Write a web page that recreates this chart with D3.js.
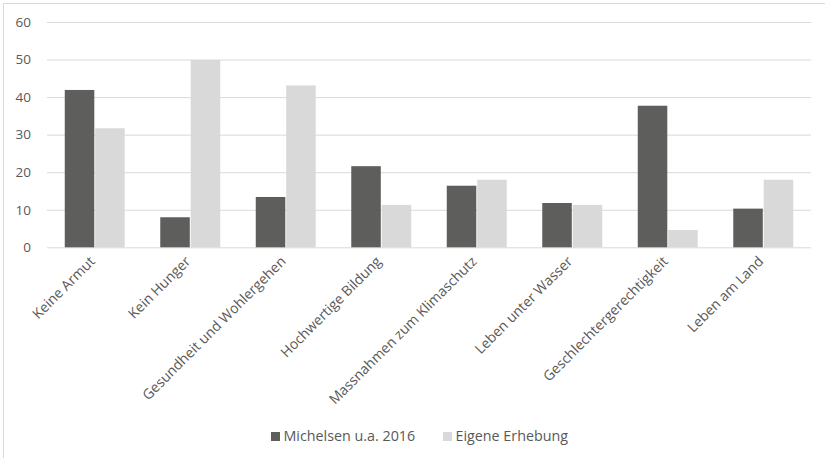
<!DOCTYPE html>
<html><head><meta charset="utf-8">
<script src="https://cdn.jsdelivr.net/npm/d3@7"></script>
<style>
html,body{margin:0;padding:0;background:#fff;}
svg{display:block;font-family:"Open Sans",sans-serif;}
</style></head>
<body>
<svg id="chart" width="825" height="458"></svg>
<script>
const categories = ["Keine Armut","Kein Hunger","Gesundheit und Wohlergehen","Hochwertige Bildung","Massnahmen zum Klimaschutz","Leben unter Wasser","Geschlechtergerechtigkeit","Leben am Land"];
const seriesNames = ["Michelsen u.a. 2016","Eigene Erhebung"];
const michelsen = [41.9, 8.0, 13.4, 21.6, 16.4, 11.8, 37.7, 10.3];
const eigene = [31.7, 49.9, 43.1, 11.3, 18.0, 11.3, 4.6, 18.0];
const yTicks = [0,10,20,30,40,50,60];
const colors = ["#5e5e5c","#d9d9d9"];

const svg = d3.select("#chart");
// outer frame
svg.append("rect").attr("x",3.5).attr("y",3.5).attr("width",840).attr("height",470)
  .attr("fill","none").attr("stroke","#d9d9d9").attr("stroke-width",1);

const pLeft = 47, pRight = 811, pTop = 22, pBottom = 247.3;
const x = d3.scaleBand().domain(categories).range([pLeft,pRight]).paddingInner(0.372).paddingOuter(0.186);
const xs = d3.scaleBand().domain(seriesNames).range([0,x.bandwidth()]).paddingInner(0.03);
const y = d3.scaleLinear().domain([0,60]).range([pBottom,pTop]);

const yAxis = d3.axisLeft(y).tickValues(yTicks).tickSize(-(pRight-pLeft)).tickPadding(16);
const gy = svg.append("g").attr("transform",`translate(${pLeft},0)`).call(yAxis);
gy.select(".domain").remove();
gy.selectAll(".tick line").attr("stroke","#d9d9d9").attr("stroke-width",1);
gy.selectAll(".tick text").attr("fill","#595959").style("font-size","13.5px").style("font-family","'Open Sans',sans-serif");

const data = categories.map((c,i)=>({c, vals:[michelsen[i], eigene[i]]}));
const groups = svg.append("g").selectAll("g").data(data).join("g")
  .attr("transform",d=>`translate(${x(d.c)},0)`);
groups.selectAll("rect").data(d=>d.vals.map((v,j)=>({v,s:seriesNames[j],j}))).join("rect")
  .attr("x",d=>xs(d.s)).attr("width",xs.bandwidth())
  .attr("y",d=>y(d.v)).attr("height",d=>y(0)-y(d.v))
  .attr("fill",d=>colors[d.j]);

// x labels
const xAxis = d3.axisBottom(x).tickSize(0).tickPadding(0);
const gx = svg.append("g").attr("transform",`translate(0,${pBottom})`).call(xAxis);
gx.select(".domain").remove();
gx.selectAll(".tick text")
  .attr("fill","#595959").style("font-size","14px").style("font-family","'Open Sans',sans-serif")
  .attr("text-anchor","end")
  .attr("y",0).attr("dy","0")
  .attr("transform","translate(1,15) rotate(-45)");

// legend
const legend = svg.append("g");
const legX = [271, 443];
seriesNames.forEach((s,i)=>{
  legend.append("rect").attr("x",legX[i]).attr("y",432).attr("width",9).attr("height",9).attr("fill",colors[i]);
  legend.append("text").attr("x",legX[i]+12.5).attr("y",441).text(s)
    .attr("fill","#595959").style("font-size","14.3px");
});
</script>
</body></html>
